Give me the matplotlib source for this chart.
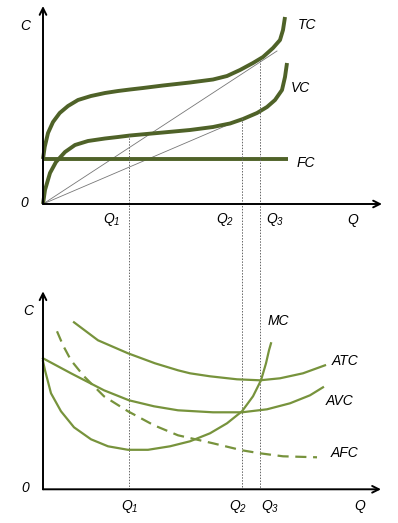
import matplotlib.pyplot as plt

plt.rcParams["font.family"] = ["Liberation Sans", "DejaVu Sans"]
plt.rcParams["mathtext.fontset"] = "custom"
plt.rcParams["mathtext.it"] = "Liberation Sans:italic"
plt.rcParams["mathtext.rm"] = "Liberation Sans:italic"

# top panel: total / variable / fixed cost
tc_q = [0, 1.7, 5, 10, 16.7, 25, 35, 48, 62, 75, 87, 100, 120, 147, 170, 184,
        197, 210, 220, 230, 237, 240, 242]
tc_c = [45, 57, 71, 82, 91, 98, 104, 108, 111, 113, 114.5, 116, 118.5, 121.5,
        124.5, 128, 134, 141, 147, 156, 164, 174, 187]
vc_q = [0, 2, 7, 13, 22, 32, 45, 62, 75, 87, 120, 147, 170, 177, 187, 200, 214,
        224, 232, 239, 242, 244]
vc_c = [0, 14, 31, 42, 52, 59, 63, 65.5, 67, 68.5, 71.5, 74, 77, 78.5, 80.5,
        85, 91, 97, 104, 114, 127, 141]
fc_q = [0, 245]
fc_c = [45, 45]
tc_ray = [234, 153]
vc_ray = [222, 95]

# bottom panel: average and marginal cost
atc_q = [31, 55, 85, 112, 135, 147, 167, 194, 217, 237, 260, 282]
atc_c = [167, 149, 136, 126, 119, 116, 113, 110, 109, 111, 116, 124]
avc_q = [0, 28, 61, 86, 111, 135, 170, 199, 224, 247, 267, 280]
avc_c = [131, 116, 99, 89, 83, 79, 77, 77, 80, 86, 94, 102]
mc_q = [0, 2, 8, 18, 31, 48, 65, 85, 105, 127, 147, 167, 184, 199, 210, 218,
        223, 226, 228]
mc_c = [128, 119, 96, 78, 62, 50, 43, 39.5, 39.5, 43, 48, 56, 66, 78, 93, 109,
        126, 139, 146]
afc_q = [14, 20, 28, 41, 61, 85, 111, 135, 170, 199, 217, 240, 274]
afc_c = [158, 144, 129, 113, 93, 78, 64, 54, 46, 39, 36, 33, 32]

q_marks = [86, 199, 217]
q_start = [69, 86, 144]
q_labels = [r"$Q_1$", r"$Q_2$", r"$Q_3$"]

dark = "#4f6228"
light = "#77933c"

fig = plt.figure(figsize=(3.98, 5.23), dpi=100)
top = fig.add_axes([0, 0, 1, 1])
bot = fig.add_axes([0, 0, 1, 1])
for ax in (top, bot):
    ax.set_axis_off()
    ax.patch.set_alpha(0)
    ax.set_xlim(-43, 355)
top.set_ylim(-319, 204)
bot.set_ylim(-33.7, 489.3)

arrow = dict(arrowstyle="->", color="black", lw=1.4, shrinkA=0, shrinkB=0,
             mutation_scale=12)
thick = dict(color=dark, lw=2.8, solid_capstyle="butt", solid_joinstyle="round")
thin = dict(color=light, lw=1.6, solid_joinstyle="round")

# top panel
top.annotate("", xy=(0, 198), xytext=(0, 0), arrowprops=arrow)
top.annotate("", xy=(339, 0), xytext=(0, 0), arrowprops=arrow)
top.plot([0, tc_ray[0]], [0, tc_ray[1]], color="#777777", lw=0.6)
top.plot([0, vc_ray[0]], [0, vc_ray[1]], color="#777777", lw=0.6)
top.plot(fc_q, fc_c, **thick)
top.plot(tc_q, tc_c, **thick)
top.plot(vc_q, vc_c, **thick)
for q, s in zip(q_marks, q_start):
    top.plot([q, q], [s, -285.3], color="#666666", lw=0.7, ls=(0, (1.5, 1.5)))

txt = dict(fontsize=10, style="italic", ha="center", va="center")
top.text(-18, 178, "C", **txt)
top.text(-19, 1, "0", **txt)
top.text(264, 179, "TC", **txt)
top.text(257, 116, "VC", **txt)
top.text(263, 41, "FC", **txt)
for x, lab in zip([69, 182, 232], q_labels):
    top.text(x, -16, lab, **txt)
top.text(310, -16, "Q", **txt)

# bottom panel
bot.annotate("", xy=(0, 198), xytext=(0, 0), arrowprops=arrow)
bot.annotate("", xy=(338, 0), xytext=(0, 0), arrowprops=arrow)
bot.plot(atc_q, atc_c, **thin)
bot.plot(avc_q, avc_c, **thin)
bot.plot(mc_q, mc_c, **thin)
bot.plot(afc_q, afc_c, color=light, lw=1.6, ls=(0, (5, 3)))

bot.text(-15, 178, "C", **txt)
bot.text(-18, 1, "0", **txt)
bot.text(235, 168, "MC", **txt)
bot.text(302, 128, "ATC", **txt)
bot.text(297, 88, "AVC", **txt)
bot.text(302, 36, "AFC", **txt)
for x, lab in zip([87, 195, 227], q_labels):
    bot.text(x, -17, lab, **txt)
bot.text(317, -17, "Q", **txt)

fig.savefig("out.png", dpi=100)
